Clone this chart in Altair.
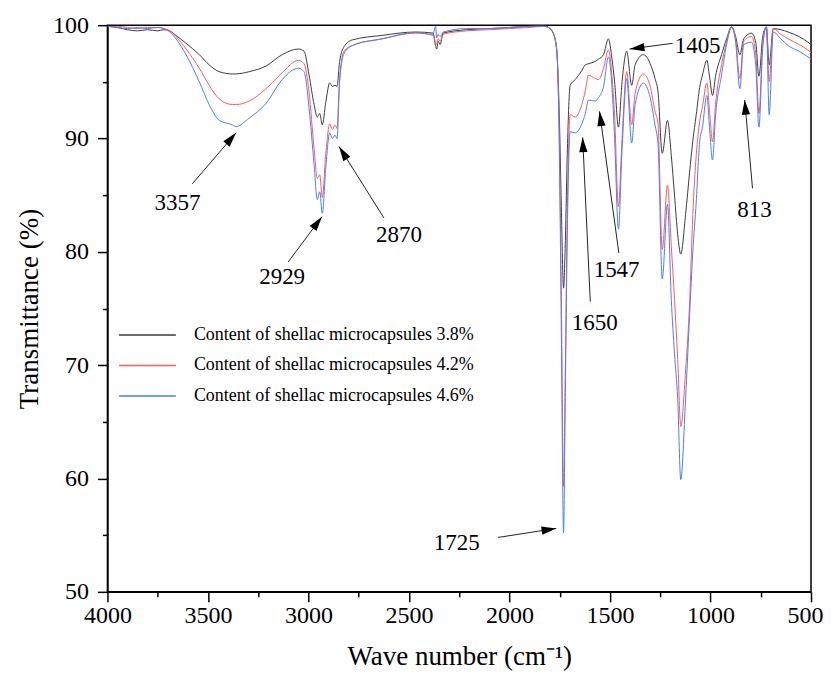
import math
import altair as alt
import pandas as pd

# ---------------- data ----------------
series_names = [
    "Content of shellac microcapsules 3.8%",
    "Content of shellac microcapsules 4.2%",
    "Content of shellac microcapsules 4.6%",
]
series_colors = ["#3c3c3c", "#ff5a5a", "#4a7cff"]

wavenumber = [
    4000, 3950, 3900, 3850, 3800, 3750, 3720, 3690, 3659, 3609,
    3543, 3494, 3444, 3378, 3362, 3295, 3211, 3131, 3050, 3022,
    2997, 2972, 2956, 2944, 2931, 2914, 2894, 2881, 2868, 2858,
    2845, 2823, 2782, 2633, 2467, 2380, 2368, 2362, 2355, 2345,
    2330, 2213, 2100, 2000, 1900, 1830, 1806, 1785, 1766, 1752,
    1742, 1731, 1722, 1712, 1698, 1673, 1640, 1623, 1607, 1574,
    1557, 1532, 1508, 1490, 1477, 1458, 1440, 1417, 1392, 1375,
    1334, 1300, 1276, 1261, 1240, 1214, 1195, 1179, 1163, 1148,
    1124, 1104, 1088, 1071, 1054, 1040, 1018, 1005, 990, 975,
    945, 920, 895, 875, 854, 835, 796, 775, 759, 740,
    722, 708, 688, 650, 614, 560, 515, 500,
]

t_38 = [
    99.9, 99.8, 99.6, 99.5, 99.6, 99.5, 99.6, 99.5, 99.1, 98.4,
    97.4, 96.5, 95.9, 95.7, 95.7, 95.9, 96.4, 97.4, 97.9, 97.7,
    95.6, 93.0, 91.9, 92.2, 91.2, 93.2, 94.9, 94.6, 94.7, 94.6,
    96.8, 98.1, 98.7, 99.1, 99.4, 99.3, 98.2, 97.9, 98.6, 98.3,
    99.3, 99.6, 99.7, 99.8, 99.9, 100.0, 99.8, 99.4, 98.0, 92.0,
    84.0, 76.8, 81.0, 89.0, 94.7, 95.2, 96.0, 96.5, 96.6, 96.8,
    97.0, 97.4, 98.8, 97.0, 95.0, 91.0, 95.0, 97.7, 94.7, 96.5,
    97.4, 96.6, 95.3, 94.1, 88.7, 91.6, 88.5, 85.0, 81.5, 79.8,
    83.3, 87.0, 89.8, 92.1, 94.5, 95.6, 96.9, 95.5, 93.8, 95.5,
    97.4, 98.8, 99.85, 99.0, 97.4, 98.8, 99.3, 98.5, 95.5, 99.0,
    99.85, 96.5, 99.7, 99.6, 99.4, 99.0, 98.5, 98.3,
]

t_42 = [
    99.9, 99.9, 99.8, 99.7, 99.8, 99.8, 99.7, 99.5, 99.0, 97.9,
    96.2, 94.7, 93.5, 93.0, 93.0, 93.3, 94.4, 95.8, 96.9, 96.6,
    94.1, 89.1, 86.5, 86.8, 84.8, 88.6, 91.3, 90.8, 91.2, 90.9,
    95.3, 97.7, 98.2, 98.8, 99.3, 99.1, 98.5, 98.3, 98.8, 98.6,
    99.2, 99.5, 99.6, 99.7, 99.8, 99.9, 99.8, 99.4, 98.0, 90.0,
    76.0, 59.3, 70.0, 84.0, 92.1, 91.9, 93.0, 94.2, 95.6, 95.3,
    95.2, 96.2, 97.8, 95.5, 92.0, 84.0, 90.0, 95.9, 91.2, 94.0,
    95.7, 94.6, 92.4, 91.3, 80.2, 85.9, 80.5, 75.8, 70.5, 64.6,
    69.5, 75.5, 83.3, 88.5, 91.5, 92.8, 94.9, 92.5, 89.7, 93.0,
    96.5, 98.5, 99.85, 98.8, 95.3, 98.6, 99.0, 97.5, 92.2, 98.5,
    99.85, 95.0, 99.7, 99.2, 98.8, 98.3, 97.8, 97.6,
]

t_46 = [
    99.9, 99.8, 99.7, 99.8, 99.7, 99.8, 99.7, 99.4, 98.8, 97.4,
    95.0, 93.0, 91.6, 91.2, 91.05, 91.8, 93.1, 95.2, 96.2, 95.9,
    92.7, 87.7, 84.6, 85.3, 83.4, 87.4, 90.5, 90.0, 90.3, 90.0,
    95.0, 97.5, 98.2, 98.8, 99.35, 99.2, 99.9, 98.9, 99.2, 99.0,
    99.4, 99.7, 99.7, 99.8, 99.9, 99.9, 99.8, 99.4, 98.0, 89.0,
    73.0, 55.2, 68.0, 82.0, 90.6, 90.5, 91.3, 92.2, 93.4, 93.3,
    93.6, 94.6, 97.2, 94.5, 90.0, 82.0, 89.0, 95.3, 89.6, 93.0,
    94.9, 93.6, 91.2, 89.5, 77.6, 84.2, 75.8, 71.0, 67.0, 59.9,
    67.0, 74.4, 80.0, 84.4, 89.7, 91.0, 93.8, 91.0, 88.1, 92.0,
    95.6, 98.3, 99.85, 98.5, 94.4, 98.3, 98.5, 96.5, 91.0, 98.0,
    99.85, 92.1, 99.4, 98.8, 98.2, 97.7, 97.2, 97.0,
]

# peak annotations: label, arrow tip, arrow tail, label position (data units)
ann_label = ["3357", "2929", "2870", "1725", "1650", "1547", "1405", "813"]
ann_tip_wn = [3360, 2933, 2848, 1767, 1636, 1552, 1402, 830]
ann_tip_t = [90.5, 83.1, 89.3, 55.6, 90.1, 92.4, 97.9, 93.4]
ann_tail_wn = [3578, 3101, 2625, 2057, 1598, 1456, 1188, 791]
ann_tail_t = [86.0, 79.1, 83.0, 54.8, 75.6, 79.9, 98.4, 85.6]
ann_text_wn = [3652, 3131, 2550, 2262, 1576, 1467, 1064, 781]
ann_text_t = [84.3, 77.8, 81.5, 54.3, 73.7, 78.4, 98.2, 83.7]

x_tick_values = list(range(4000, 499, -250))
y_tick_values = list(range(50, 101, 5))

# ---------------- layout ----------------
W, H = 704, 567
X_LO, X_HI = 500, 4000
Y_LO, Y_HI = 50, 100
SERIF = "Liberation Serif"

rows = []
for name, vals in zip(series_names, [t_38, t_42, t_46]):
    for w, t in zip(wavenumber, vals):
        rows.append({"wn": w, "T": t, "series": name})
spectra = pd.DataFrame(rows)


def to_px(w, t):
    return ((X_HI - w) / (X_HI - X_LO) * W, (Y_HI - t) / (Y_HI - Y_LO) * H)


angles = []
for tw, tt, sw, st in zip(ann_tip_wn, ann_tip_t, ann_tail_wn, ann_tail_t):
    x1, y1 = to_px(sw, st)
    x2, y2 = to_px(tw, tt)
    angles.append(math.degrees(math.atan2(x2 - x1, -(y2 - y1))) % 360)

anns = pd.DataFrame({
    "label": ann_label,
    "tip_wn": ann_tip_wn, "tip_t": ann_tip_t,
    "tail_wn": ann_tail_wn, "tail_t": ann_tail_t,
    "text_wn": ann_text_wn, "text_t": ann_text_t,
    "angle": angles,
})

x_scale = alt.Scale(domain=[X_LO, X_HI], reverse=True, nice=False, zero=False)
y_scale = alt.Scale(domain=[Y_LO, Y_HI], nice=False, zero=False)

x_axis = alt.Axis(
    values=x_tick_values,
    format="d",
    title="Wave number (cm⁻¹)",
    labelExpr="datum.value % 500 === 0 ? datum.label : ''",
    tickSize={"condition": {"test": "datum.value % 500 === 0", "value": 10}, "value": 5},
    labelOffset={"condition": {"test": "datum.value === 500", "value": -6}, "value": 0},
    labelPadding=2,
    labelFlush=False,
    labelOverlap=False,
    titleY=73,
    titleBaseline="alphabetic",
    grid=False,
)
y_axis = alt.Axis(
    values=y_tick_values,
    format="d",
    title="Transmittance (%)",
    labelExpr="datum.value % 10 === 0 ? datum.label : ''",
    tickSize={"condition": {"test": "datum.value % 10 === 0", "value": 10}, "value": 5},
    labelPadding=9,
    labelOverlap=False,
    titleX=-78,
    titleY=H / 2,
    titleBaseline="middle",
    grid=False,
)

legend = alt.Legend(
    title=None,
    orient="none",
    legendX=10.5,
    legendY=300,
    symbolType="stroke",
    symbolSize=3249,
    symbolStrokeWidth=1.5,
    labelFont=SERIF,
    labelFontSize=18,
    labelColor="black",
    labelOffset=17,
    labelLimit=0,
    clipHeight=20,
    rowPadding=10.5,
    padding=0,
)

lines = alt.Chart(spectra).mark_line(
    strokeWidth=1, clip=True, interpolate="monotone"
).encode(
    x=alt.X("wn:Q", scale=x_scale, axis=x_axis),
    y=alt.Y("T:Q", scale=y_scale, axis=y_axis),
    color=alt.Color("series:N",
                    scale=alt.Scale(domain=series_names, range=series_colors),
                    legend=legend),
)

arrows = alt.Chart(anns).mark_rule(color="#222222", strokeWidth=1).encode(
    x="tail_wn:Q",
    y="tail_t:Q",
    x2="tip_wn:Q",
    y2="tip_t:Q",
)

HEAD = "M0,0L0.62,2.2L-0.62,2.2Z"
heads = alt.Chart(anns).mark_point(
    shape=HEAD, filled=True, size=180, color="black", opacity=1
).encode(
    x="tip_wn:Q",
    y="tip_t:Q",
    angle=alt.Angle("angle:Q", scale=None),
)

labels = alt.Chart(anns).mark_text(
    font=SERIF, fontSize=23, color="black", align="center", baseline="middle"
).encode(
    x="text_wn:Q",
    y="text_t:Q",
    text="label:N",
)

chart = alt.layer(lines, arrows, heads, labels).properties(
    width=W,
    height=H,
    autosize=alt.AutoSizeParams(type="none"),
    padding={"left": 99.5, "top": 17, "right": 13, "bottom": 79},
).configure_view(
    stroke="black", strokeWidth=1.5
).configure_axis(
    domainColor="black", domainWidth=1.5,
    tickColor="black", tickWidth=1.5,
    labelFont=SERIF, labelFontSize=24, labelColor="black",
    titleFont=SERIF, titleFontSize=27, titleFontWeight="normal", titleColor="black",
)

chart.save("out.html", embed_options={"renderer": "svg", "actions": False})
